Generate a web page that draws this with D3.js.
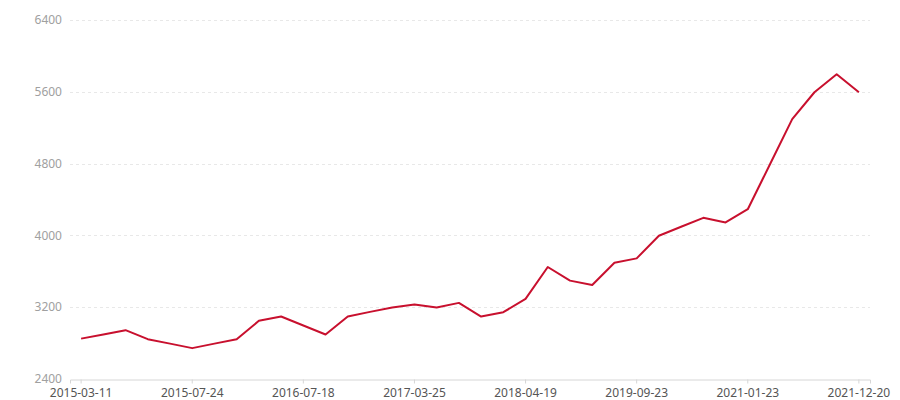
<!DOCTYPE html>
<html>
<head>
<meta charset="utf-8">
<script src="https://cdn.jsdelivr.net/npm/d3@7/dist/d3.min.js"></script>
<style>
	body { margin: 0; background: #fff; }
	svg { display: block; font-family: "Segoe UI", "Noto Sans", "Open Sans", sans-serif; }
</style>
</head>
<body>
<svg></svg>
<script>
var dates = [
	"2015-03-11", "2015-04-07", "2015-05-04", "2015-05-31", "2015-06-27", "2015-07-24",
	"2015-10-04", "2015-12-15", "2016-02-25", "2016-05-07", "2016-07-18",
	"2016-09-06", "2016-10-26", "2016-12-15", "2017-02-03", "2017-03-25",
	"2017-06-11", "2017-08-28", "2017-11-14", "2018-01-31", "2018-04-19",
	"2018-08-01", "2018-11-13", "2019-02-25", "2019-06-09", "2019-09-23",
	"2019-12-30", "2020-04-06", "2020-07-13", "2020-10-18", "2021-01-23",
	"2021-03-30", "2021-06-04", "2021-08-09", "2021-10-14", "2021-12-20"
]
var values = [
	2850, 2897, 2944, 2844, 2794, 2744,
	2794, 2844, 3048, 3096, 2996,
	2896, 3096, 3148, 3196, 3229,
	3196, 3248, 3096, 3144, 3292,
	3648, 3496, 3448, 3696, 3744,
	3996, 4096, 4196, 4144, 4292,
	4793, 5295, 5595, 5795, 5595
]
var yTicks = [2400, 3200, 4000, 4800, 5600, 6400]

var width = 900
var height = 400
var margin = { top: 20, right: 30, bottom: 21, left: 70 }

var svg = d3.select('svg')
	.attr('width', width)
	.attr('height', height)

var x = d3.scaleBand()
	.domain(dates)
	.range([margin.left, width - margin.right])

var y = d3.scaleLinear()
	.domain([2400, 6400])
	.range([height - margin.bottom, margin.top])

// dashed grid lines
svg.append('g')
	.selectAll('line')
	.data(yTicks.slice(1))
	.enter()
	.append('line')
	.attr('x1', margin.left)
	.attr('x2', width - margin.right)
	.attr('y1', function(d) { return Math.round(y(d)) + 0.5 })
	.attr('y2', function(d) { return Math.round(y(d)) + 0.5 })
	.attr('stroke', '#e8e8e8')
	.attr('stroke-dasharray', '3,3')

// y labels
svg.append('g')
	.selectAll('text')
	.data(yTicks)
	.enter()
	.append('text')
	.attr('x', margin.left - 8)
	.attr('y', function(d) { return y(d) })
	.attr('dy', '0.35em')
	.attr('text-anchor', 'end')
	.attr('font-size', 12)
	.attr('fill', '#a0a0a0')
	.text(function(d) { return d })

// x axis
var xAxis = d3.axisBottom(x)
	.tickValues(dates.filter(function(d, i) { return i % 5 === 0 }))
	.tickSize(4)
	.tickPadding(5)

var gx = svg.append('g')
	.attr('transform', 'translate(0,' + (Math.round(y(2400)) + 0.5) + ')')
	.call(xAxis)
gx.select('.domain').attr('stroke', '#d6d6d6')
gx.selectAll('.tick line').attr('stroke', '#d6d6d6')
gx.selectAll('.tick text')
	.attr('font-size', 12)
	.attr('font-family', '"Segoe UI", "Noto Sans", sans-serif')
	.attr('fill', '#555')

// series line
var line = d3.line()
	.x(function(d, i) { return x(dates[i]) + x.bandwidth() / 2 })
	.y(function(d) { return y(d) })

svg.append('path')
	.datum(values)
	.attr('d', line)
	.attr('fill', 'none')
	.attr('stroke', '#c8102e')
	.attr('stroke-width', 2)
	.attr('stroke-linejoin', 'round')
</script>
</body>
</html>
